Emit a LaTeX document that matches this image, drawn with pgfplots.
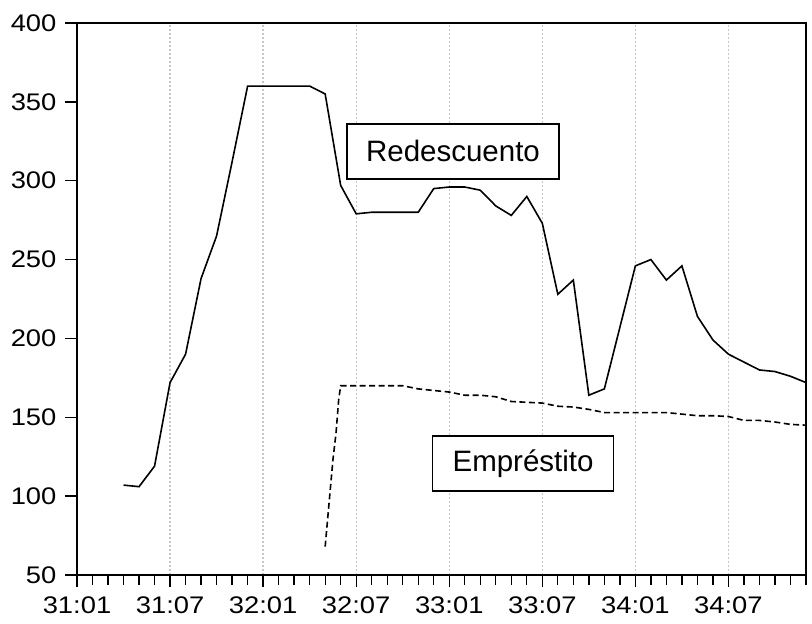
\documentclass[border=0pt]{standalone}
\usepackage{fontspec}
\setmainfont{Liberation Sans}
\usepackage{pgfplots}
\pgfplotsset{compat=1.18}
\begin{document}
\begin{tikzpicture}
\useasboundingbox (-77pt,-49pt) rectangle (735pt,575pt);
\begin{axis}[
  at={(0,0)}, anchor=south west,
  width=729pt, height=552pt, scale only axis,
  xmin=0, xmax=47, ymin=50, ymax=400,
  xtick={0,6,...,42},
  xticklabels={31:01,31:07,32:01,32:07,33:01,33:07,34:01,34:07},
  minor xtick={0,...,47},
  ytick={50,100,...,400},
  tick align=outside, tick pos=left,
  major tick length=12pt, minor tick length=10pt,
  every tick/.style={black, line width=1.3pt},
  axis line style={line width=1.6pt},
  xmajorgrids,
  major x grid style={gray!45, dash pattern=on 2pt off 2pt, line width=1.3pt},
  /pgf/number format/assume math mode=true,
  ticklabel style={font=\fontsize{24}{29}\selectfont, xscale=1.14, transform shape},
  xticklabel style={yshift=-6pt},
  yticklabel style={xshift=-4pt},
]
\addplot[black, line width=1.6pt] coordinates {
(3,107) (4,106) (5,119) (6,172) (7,190) (8,238) (9,265) (10,312) (11,360)
(12,360) (13,360) (14,360) (15,360) (16,355) (17,297) (18,279) (19,280)
(20,280) (21,280) (22,280) (23,295) (24,296) (25,296) (26,294) (27,284)
(28,278) (29,290) (30,273) (31,228) (32,237) (33,164) (34,168) (35,207)
(36,246) (37,250) (38,237) (39,246) (40,214) (41,199) (42,190) (43,185)
(44,180) (45,179) (46,176) (47,172)
};
\addplot[black, line width=1.6pt, dash pattern=on 6pt off 3.5pt] coordinates {
(16,68) (16.5,123) (16.7,140) (16.87,161) (17,170) (18,170) (19,170) (20,170)
(21,170) (22,168) (23,167) (24,166) (25,164) (26,164) (27,163) (28,160)
(29,159.5) (30,159) (31,157) (32,156.5) (33,155) (34,153) (35,153) (36,153)
(37,153) (38,153) (39,152) (40,151) (41,151) (42,150.5) (43,148) (44,148)
(45,147) (46,145.5) (47,145)
};
\node[draw, line width=1.6pt, fill=white, minimum width=212pt, minimum height=55pt,
  inner sep=0pt, font=\fontsize{29.5}{35}\selectfont] at (axis cs:24.24,318.7) {Redescuento};
\node[draw, line width=1.6pt, fill=white, minimum width=181pt, minimum height=55pt,
  inner sep=0pt, font=\fontsize{29.5}{35}\selectfont] at (axis cs:28.76,120.7) {Empréstito};
\end{axis}
\end{tikzpicture}
\end{document}
